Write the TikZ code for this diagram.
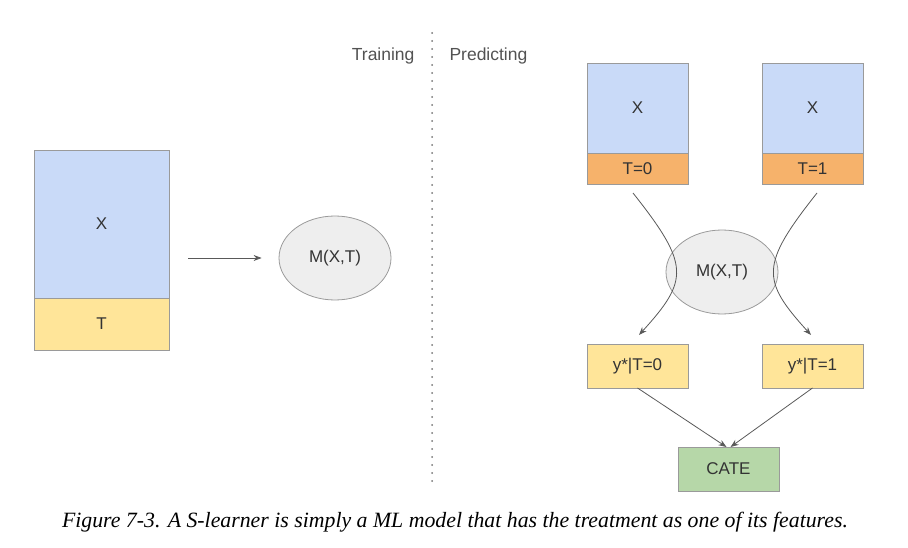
\documentclass[tikz,border=0pt]{standalone}
\usepackage{fontspec}
\setmainfont{Liberation Sans}
\newfontfamily\capfont{Liberation Serif}
\usetikzlibrary{arrows.meta,positioning,shapes.geometric}
\definecolor{xblue}{HTML}{C9DAF8}
\definecolor{tyellow}{HTML}{FFE599}
\definecolor{torange}{HTML}{F6B26B}
\definecolor{cgreen}{HTML}{B6D7A8}
\definecolor{mgray}{HTML}{EEEEEE}
\definecolor{edge}{HTML}{9A9A9A}
\definecolor{ink}{HTML}{333333}

\begin{document}
\begin{tikzpicture}[x=1pt, y=-1pt,
    box/.style={draw=edge, line width=0.8pt,%
      outer sep=0, inner sep=0,%
      align=center, text=ink,%
      font=\fontsize{17}{20}\selectfont},
    model/.style={ellipse, draw=edge, fill=mgray, line width=0.8pt,
      minimum width=112pt, minimum height=84pt, inner sep=0,
      text=ink, font=\fontsize{17}{20}\selectfont},
    phase/.style={text=ink!85, font=\fontsize{17.5}{20}\selectfont},
    link/.style={draw=black!65, line width=0.8pt,
      -{Stealth[length=8pt,width=6pt]}}
    ]
    \useasboundingbox (0,0) rectangle (908,548);
    % training side
    \node[box, fill=xblue, minimum width=135pt, minimum height=148pt] (x0) at (101.5,224) {X};
    \node[box, fill=tyellow, minimum width=135pt, minimum height=52pt, below=0pt of x0] (t0) {T};
    \node[model] (m0) at (335,258) {M(X,T)};
    \draw[link, shorten <=19pt, shorten >=17pt] (x0.east |- m0) -- (m0.west);
    % split
    \coordinate (cut1) at (432,33);
    \coordinate (cut2) at (432,485);
    \draw[black!55, line width=2pt, line cap=round, dash pattern=on 0pt off 8pt] (cut1) -- (cut2);
    \node[phase, anchor=base east] (train) at (418,61) {Training};
    \node[phase, anchor=base west] (pred) at (446,61) {Predicting};
    % predicting side
    \foreach \i/\cx in {1/637.5,2/812.5} {%
      \pgfmathtruncatemacro{\tv}{\i-1}
      \node[box, fill=xblue, minimum width=101pt, minimum height=90pt] (x\i) at (\cx,108) {X};
      \node[box, fill=torange, minimum width=101pt, minimum height=31pt, below=0pt of x\i] (t\i) {T=\tv};
      \node[box, fill=tyellow, minimum width=101pt, minimum height=44pt] (y\i) at (\cx,366) {y*|T=\tv};
    }
    \node[model] (m1) at (722,272) {M(X,T)};
    \node[box, fill=cgreen, minimum width=101pt, minimum height=44pt] (cate) at (728.5,469) {CATE};
    \draw[link] ([xshift=-4.5pt,yshift=-9pt]t1.south) .. controls +(57,72) and +(50,-55) .. ([xshift=1.5pt,yshift=9pt]y1.north);
    \draw[link] ([xshift=4.5pt,yshift=-9pt]t2.south) .. controls +(-57,72) and +(-50,-55) .. ([xshift=-1.5pt,yshift=9pt]y2.north);
    \draw[link] (y1.south) -- ([xshift=-2pt]cate.north);
    \draw[link] (y2.south) -- ([xshift=2pt]cate.north);
    % caption
    \node[font=\capfont\itshape\fontsize{21.8}{26}\selectfont, text=black] (cap) at (455,522) {Figure 7-3. A S-learner is simply a ML model that has the treatment as one of its features.};
  \end{tikzpicture}
\end{document}
